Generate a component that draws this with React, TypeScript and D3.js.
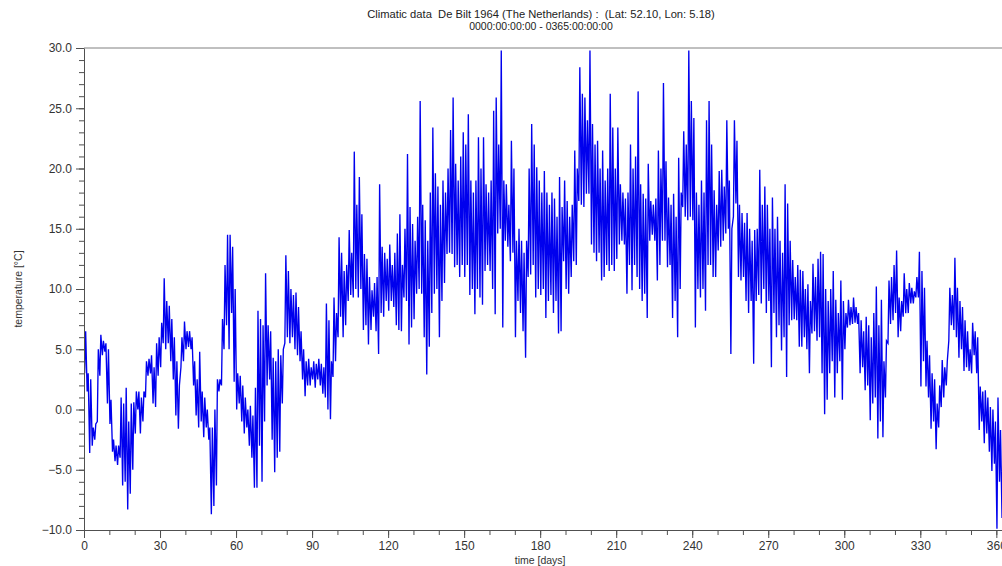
import React, { useRef, useEffect } from 'react';
import * as d3 from 'd3';

// Daily extremes (°C), day 0 .. 364
const dailyMax = [
  6.5, 3.0, 2.5, -1.5, -1.2, 5.0, 6.2, 5.7, 5.5, 5.0,
  0.8, -2.5, -3.0, -3.0, 1.0, 0.5, 1.8, -1.0, 0.5, 0.6,
  1.5, 1.5, 1.0, 1.5, 4.0, 4.2, 4.5, 3.5, 5.5, 6.0,
  7.2, 10.9, 9.0, 8.6, 7.5, 6.0, 4.0, 2.0, 6.0, 7.3,
  6.5, 6.5, 6.0, 4.0, 2.5, 4.8, 1.5, 1.0, 0.0, -1.5,
  -1.5, 0.0, 2.5, 2.5, 7.5, 12.0, 14.5, 14.5, 13.5, 10.0,
  3.0, 2.8, 2.0, 1.0, 0.0, 0.3, -0.5, 1.8, 8.2, 7.5,
  7.0, 11.3, 7.0, 6.5, 4.3, 4.0, 5.0, 4.5, 5.0, 12.8,
  11.5, 10.0, 9.5, 9.7, 8.5, 6.5, 5.0, 4.0, 4.2, 3.5,
  4.0, 3.8, 4.2, 3.8, 3.5, 8.8, 7.4, 4.0, 9.3, 8.0,
  14.3, 13.0, 11.5, 12.0, 14.9, 13.0, 21.4, 17.0, 19.3, 16.2,
  12.9, 12.5, 11.0, 9.9, 10.5, 11.0, 18.7, 13.5, 13.0, 12.5,
  13.7, 12.0, 13.0, 14.6, 16.2, 12.0, 15.0, 21.2, 16.8, 15.4,
  14.0, 16.0, 25.6, 17.0, 15.7, 14.0, 18.0, 23.4, 19.6, 18.5,
  17.0, 19.0, 18.0, 20.0, 23.2, 25.9, 20.4, 19.0, 21.0, 23.0,
  22.0, 24.5, 19.0, 18.0, 19.0, 22.6, 20.0, 22.6, 18.7, 18.0,
  19.0, 24.8, 25.9, 22.0, 29.8, 19.0, 18.7, 17.0, 22.3, 20.0,
  14.0, 15.0, 14.0, 13.0, 14.0, 20.0, 23.7, 22.0, 20.1, 19.0,
  18.0, 19.8, 18.0, 17.0, 18.0, 17.5, 16.0, 19.3, 16.8, 19.0,
  17.3, 16.0, 17.0, 21.5, 20.0, 28.4, 26.2, 25.9, 24.0, 29.8,
  23.7, 22.0, 22.3, 20.0, 21.5, 19.0, 20.0, 26.2, 23.4, 20.0,
  23.4, 18.7, 18.0, 17.5, 18.0, 22.0, 20.0, 21.0, 26.4, 18.7,
  17.9, 17.5, 20.4, 17.3, 17.0, 17.5, 21.5, 20.0, 27.1, 20.6,
  17.6, 17.0, 17.9, 16.0, 20.9, 18.0, 23.1, 22.0, 29.8, 25.6,
  24.2, 18.0, 17.0, 19.0, 18.0, 24.0, 25.6, 22.0, 18.2, 17.0,
  19.8, 19.9, 18.5, 24.0, 19.0, 15.0, 24.0, 22.3, 17.0, 16.3,
  15.5, 16.3, 15.0, 14.0, 14.9, 15.0, 19.9, 17.0, 18.5, 17.0,
  15.0, 17.6, 15.0, 16.0, 14.0, 13.0, 18.7, 17.1, 14.0, 12.4,
  11.0, 12.0, 11.6, 11.5, 10.0, 10.4, 9.0, 12.1, 11.0, 12.5,
  13.1, 12.9, 10.0, 9.0, 10.0, 11.5, 9.1, 8.0, 10.7, 9.0,
  8.0, 9.1, 8.5, 9.3, 8.5, 8.0, 7.4, 6.5, 7.7, 7.0,
  6.0, 8.0, 10.2, 7.0, 9.1, 4.0, 5.7, 10.7, 11.0, 12.0,
  13.2, 9.3, 9.0, 11.3, 10.0, 10.5, 10.1, 9.8, 11.0, 13.1,
  11.5, 10.1, 5.7, 4.5, 3.0, 2.5, 0.5, 2.0, 4.1, 3.5,
  4.0, 10.1, 9.5, 12.6, 10.1, 9.0, 8.5, 7.4, 6.5, 5.0,
  7.2, 6.5, 6.0, 1.9, 1.5, 1.6, 1.0, 0.2, 0.0, -1.0,
  1.0, -1.7, -2.0, -3.0, -4.0,
];

const dailyMin = [
  3.0, 1.5, -3.6, -3.0, -2.5, -1.0, 2.8, 4.5, 4.8, 0.5,
  -1.2, -3.5, -4.3, -4.6, -4.0, -6.3, -6.0, -8.3, -7.0, -5.0,
  -2.0, 0.0, -2.0, -1.0, 1.0, 2.8, 3.0, 0.5, 0.2, 2.8,
  3.5, 5.5, 5.0, 5.5, 4.0, 2.5, -0.5, -1.6, 3.5, 4.0,
  5.0, 5.2, 5.0, 2.0, -0.5, -1.5, -1.0, -2.3, -1.5, -2.5,
  -8.7, -8.0, -6.3, 1.5, 2.0, 5.0, 7.0, 5.0, 8.0, 2.3,
  0.0, 0.5, -1.0, -2.0, -1.5, -3.0, -4.0, -6.5, -6.5, -3.0,
  -6.0, -1.0, 2.0, 2.5, -2.5, -5.2, -4.0, -3.5, 0.5, 5.5,
  6.0, 5.5, 6.0, 5.0, 4.5, 4.0, 2.5, 1.1, 2.0, 2.0,
  2.5, 1.8, 2.5, 2.0, 1.3, 1.0, 0.0, -0.8, 2.7, 4.0,
  6.0, 7.7, 6.0, 7.0, 9.0, 9.5, 9.3, 10.0, 9.3, 10.0,
  6.6, 7.0, 5.4, 6.6, 7.7, 6.5, 4.6, 8.0, 7.7, 9.0,
  8.2, 9.0, 8.5, 7.0, 6.6, 6.5, 9.3, 9.0, 5.4, 6.8,
  7.5, 9.6, 10.0, 9.6, 6.0, 2.9, 5.2, 8.0, 9.6, 10.0,
  6.0, 9.0, 10.5, 12.9, 13.0, 12.9, 11.8, 12.0, 11.0, 12.0,
  11.0, 12.0, 9.5, 10.0, 7.9, 10.0, 9.3, 8.7, 11.5, 12.0,
  11.5, 10.0, 7.9, 14.6, 15.0, 6.8, 14.0, 13.5, 12.3, 13.0,
  6.0, 9.0, 8.0, 6.5, 4.3, 11.0, 11.2, 12.0, 9.3, 10.0,
  9.5, 10.0, 7.6, 9.0, 9.5, 8.0, 9.0, 6.3, 6.5, 12.3,
  10.0, 9.6, 11.0, 12.3, 12.0, 17.3, 17.0, 16.8, 17.9, 17.9,
  13.7, 13.0, 12.3, 13.0, 10.7, 11.0, 12.0, 11.5, 12.0, 11.5,
  12.5, 13.7, 14.0, 13.7, 9.6, 12.0, 9.9, 12.0, 11.0, 10.0,
  9.0, 9.6, 7.6, 14.0, 14.5, 14.0, 10.7, 12.0, 14.0, 14.0,
  11.8, 12.0, 7.6, 9.0, 6.0, 10.0, 16.8, 16.0, 15.7, 16.0,
  15.7, 6.8, 10.0, 9.3, 10.0, 8.2, 12.0, 12.0, 11.0, 11.0,
  13.2, 13.5, 14.0, 14.6, 15.0, 4.6, 16.0, 17.1, 11.0, 10.7,
  11.0, 9.0, 8.0, 9.0, 3.8, 9.0, 9.5, 8.8, 10.0, 8.0,
  9.0, 3.5, 8.0, 6.0, 7.0, 4.9, 6.0, 2.7, 7.0, 7.4,
  7.5, 7.4, 5.2, 5.2, 6.0, 5.0, 3.0, 6.3, 6.5, 5.7,
  6.0, 3.0, -0.4, 0.8, 3.0, 4.0, 1.0, 3.0, 4.0, 0.8,
  5.0, 6.8, 7.0, 7.1, 7.2, 7.1, 3.0, 3.5, 1.6, 2.0,
  -0.9, 0.5, 1.0, -2.4, -1.0, -2.3, 1.0, 5.5, 7.1, 7.4,
  8.0, 6.0, 6.5, 7.7, 8.0, 8.0, 8.8, 8.8, 9.3, 9.3,
  1.9, 4.0, 1.9, 1.0, -1.6, -1.0, -3.3, -1.5, 0.2, 1.0,
  2.0, 5.7, 7.0, 6.6, 6.0, 4.3, 5.0, 3.2, 3.5, 3.2,
  3.0, 4.5, 3.0, -1.7, -1.0, -2.8, -2.0, -3.5, -5.1, -4.5,
  -9.9, -6.0, -9.0, -8.0, -9.0,
];

const xMajorTicks = [0, 30, 60, 90, 120, 150, 180, 210, 240, 270, 300, 330, 360];
const xMinorTicks = d3.range(0, 366, 10);
const yMajorTicks = [-10, -5, 0, 5, 10, 15, 20, 25, 30];
const yMinorTicks = d3.range(-10, 31, 1);

const titleLines = [
  'Climatic data  De Bilt 1964 (The Netherlands) :  (Lat: 52.10, Lon: 5.18)',
  '0000:00:00:00 - 0365:00:00:00',
];

const WIDTH = 1002;
const HEIGHT = 566;
const FONT = '"Liberation Sans", Arial, sans-serif';

const App: React.FC = () => {
  const svgRef = useRef<SVGSVGElement>(null);

  useEffect(() => {
    const svg = d3.select(svgRef.current);
    svg.selectAll('*').remove();

    const left = 84;
    const top = 48;
    const bottom = 530;
    const plotRight = left + 925; // day 365 falls past the window edge

    const x = d3.scaleLinear().domain([0, 365]).range([left, plotRight]);
    const y = d3.scaleLinear().domain([-10, 30]).range([bottom, top]);

    svg.append('rect').attr('width', WIDTH).attr('height', HEIGHT).attr('fill', '#ffffff');

    // min early in the day, max in the afternoon
    const points: [number, number][] = [];
    dailyMin.forEach((lo, i) => {
      points.push([i + 0.25, lo]);
      points.push([i + 0.65, dailyMax[i]]);
    });

    const line = d3.line<[number, number]>()
      .x(d => x(d[0]))
      .y(d => y(d[1]));

    svg.append('path')
      .datum(points)
      .attr('d', line)
      .attr('fill', 'none')
      .attr('stroke', '#0000ee')
      .attr('stroke-width', 1.35)
      .attr('stroke-linejoin', 'miter');

    // top frame
    svg.append('line')
      .attr('x1', left).attr('x2', plotRight)
      .attr('y1', top).attr('y2', top)
      .attr('stroke', '#808080');

    const axisColor = '#505050';
    const textColor = '#333333';

    // Y axis
    svg.append('g')
      .attr('transform', `translate(${left},0)`)
      .call(d3.axisLeft(y).tickValues(yMinorTicks).tickSize(5).tickSizeOuter(0).tickFormat(() => ''))
      .call(g => g.select('.domain').remove());

    const yAxis = svg.append('g')
      .attr('transform', `translate(${left},0)`)
      .call(d3.axisLeft(y).tickValues(yMajorTicks).tickSize(8).tickSizeOuter(0).tickPadding(4)
        .tickFormat(d3.format('.1f') as any));

    // X axis
    svg.append('g')
      .attr('transform', `translate(0,${bottom})`)
      .call(d3.axisBottom(x).tickValues(xMinorTicks).tickSize(5).tickSizeOuter(0).tickFormat(() => ''))
      .call(g => g.select('.domain').remove());

    const xAxis = svg.append('g')
      .attr('transform', `translate(0,${bottom})`)
      .call(d3.axisBottom(x).tickValues(xMajorTicks).tickSize(8).tickSizeOuter(0).tickPadding(3)
        .tickFormat(d3.format('d') as any));

    svg.selectAll('.domain, .tick line').attr('stroke', axisColor);
    [yAxis, xAxis].forEach(a => a.selectAll('text')
      .style('font-family', FONT)
      .style('font-size', '12px')
      .attr('fill', textColor));

    // Titles
    titleLines.forEach((t, i) => {
      svg.append('text')
        .attr('x', 541)
        .attr('y', 18 + i * 12)
        .attr('text-anchor', 'middle')
        .style('font-family', FONT)
        .style('font-size', i === 0 ? '11.2px' : '10.5px')
        .style('white-space', 'pre')
        .attr('fill', '#222222')
        .text(t);
    });

    svg.append('text')
      .attr('x', x(180))
      .attr('y', 564)
      .attr('text-anchor', 'middle')
      .style('font-family', FONT)
      .style('font-size', '10.5px')
      .attr('fill', textColor)
      .text('time [days]');

    svg.append('text')
      .attr('transform', `translate(22,${y(10)}) rotate(-90)`)
      .attr('text-anchor', 'middle')
      .style('font-family', FONT)
      .style('font-size', '10.5px')
      .attr('fill', textColor)
      .text('temperature [°C]');
  }, []);

  return (
    <svg
      ref={svgRef}
      width={WIDTH}
      height={HEIGHT}
      style={{ position: 'absolute', left: 0, top: 0, display: 'block' }}
    />
  );
};

export default App;
